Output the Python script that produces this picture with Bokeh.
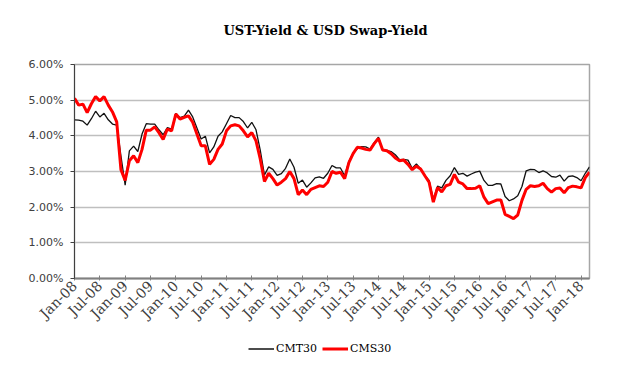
import math
from bokeh.plotting import figure
from bokeh.layouts import column
from bokeh.models import (Range1d, FixedTicker, PrintfTickFormatter, Legend, LegendItem,
                          ColumnDataSource, Label)
from bokeh.embed import file_html
from bokeh.resources import INLINE

# ---- data (month-end values, first point plotted at the Jan-08 tick) ----
cmt30 = [4.45, 4.44, 4.41, 4.30, 4.48, 4.69, 4.53, 4.63, 4.45, 4.33, 4.30, 3.44,
         2.62, 3.58, 3.71, 3.56, 4.05, 4.34, 4.33, 4.33, 4.17, 4.03, 4.23, 4.19,
         4.63, 4.51, 4.55, 4.72, 4.53, 4.22, 3.91, 3.99, 3.52, 3.69, 3.99, 4.11,
         4.34, 4.57, 4.51, 4.51, 4.40, 4.22, 4.38, 4.17, 3.60, 2.90, 3.13, 3.06,
         2.89, 2.94, 3.09, 3.35, 3.12, 2.67, 2.76, 2.56, 2.68, 2.82, 2.85, 2.81,
         2.95, 3.17, 3.10, 3.10, 2.88, 3.28, 3.52, 3.64, 3.70, 3.69, 3.63, 3.81,
         3.96, 3.60, 3.59, 3.56, 3.47, 3.33, 3.34, 3.32, 3.09, 3.21, 3.07, 2.89,
         2.75, 2.22, 2.59, 2.54, 2.75, 2.88, 3.11, 2.92, 2.95, 2.87, 2.93, 2.98,
         3.01, 2.75, 2.61, 2.61, 2.66, 2.65, 2.30, 2.18, 2.23, 2.32, 2.58, 3.02,
         3.06, 3.05, 2.97, 3.02, 2.96, 2.86, 2.84, 2.90, 2.73, 2.86, 2.88, 2.83,
         2.74, 2.95, 3.13]

cms30 = [5.05, 4.86, 4.89, 4.65, 4.90, 5.10, 4.98, 5.10, 4.86, 4.67, 4.39, 3.05,
         2.75, 3.30, 3.44, 3.25, 3.62, 4.16, 4.16, 4.25, 4.09, 3.90, 4.19, 4.14,
         4.61, 4.47, 4.52, 4.56, 4.38, 4.05, 3.72, 3.72, 3.20, 3.34, 3.62, 3.77,
         4.14, 4.28, 4.31, 4.28, 4.14, 3.97, 4.09, 3.86, 3.35, 2.72, 2.95, 2.80,
         2.62, 2.70, 2.80, 3.00, 2.80, 2.35, 2.48, 2.35, 2.50, 2.55, 2.60, 2.58,
         2.70, 3.00, 2.95, 2.98, 2.80, 3.25, 3.50, 3.68, 3.66, 3.62, 3.60, 3.78,
         3.93, 3.60, 3.58, 3.50, 3.38, 3.30, 3.32, 3.20, 3.05, 3.15, 3.07, 2.88,
         2.70, 2.14, 2.55, 2.43, 2.60, 2.64, 2.92, 2.70, 2.65, 2.52, 2.52, 2.53,
         2.60, 2.28, 2.10, 2.15, 2.20, 2.20, 1.80, 1.74, 1.68, 1.78, 2.19, 2.50,
         2.60, 2.58, 2.60, 2.67, 2.52, 2.42, 2.52, 2.54, 2.40, 2.55, 2.59, 2.57,
         2.54, 2.83, 2.98]

month_index = list(range(len(cmt30)))

x_tick_labels = ["Jan-08", "Jul-08", "Jan-09", "Jul-09", "Jan-10", "Jul-10", "Jan-11",
                 "Jul-11", "Jan-12", "Jul-12", "Jan-13", "Jul-13", "Jan-14", "Jul-14",
                 "Jan-15", "Jul-15", "Jan-16", "Jul-16", "Jan-17", "Jul-17", "Jan-18"]
y_ticks = [0, 1, 2, 3, 4, 5, 6]

series_names = ["CMT30", "CMS30"]
series_colors = ["#111111", "#ff0000"]
series_widths = [1.3, 3]
title_text = "UST-Yield & USD Swap-Yield"

src = ColumnDataSource(dict(x=month_index, cmt=cmt30, cms=cms30))

W = 611
FRAME_L, FRAME_R = 74, 589   # page x of the plot frame (frames are aligned in the column)

# ---- title strip (x range expressed in page pixels of the aligned frame) ----
t = figure(width=W, height=40, output_backend="svg", toolbar_location=None,
           x_range=Range1d(FRAME_L, FRAME_R), y_range=Range1d(0, 40),
           min_border_left=0, min_border_right=0, min_border_top=0, min_border_bottom=0,
           x_axis_location=None, y_axis_location=None)
t.grid.visible = False
t.outline_line_color = None
t.background_fill_color = "white"
t.border_fill_color = "white"
t.add_layout(Label(x=325, y=10, text=title_text, text_align="center",
                   text_baseline="alphabetic", text_font="DejaVu Serif",
                   text_font_style="bold", text_font_size="13px", text_color="#000000"))

# ---- main chart ----
p = figure(width=W, height=290, output_backend="svg", toolbar_location=None,
           x_range=Range1d(0, len(cmt30) - 1), y_range=Range1d(0, 6),
           min_border_left=FRAME_L, min_border_right=W - FRAME_R, min_border_top=24,
           min_border_bottom=51)

p.background_fill_color = "white"
p.border_fill_color = "white"
p.outline_line_color = "#a6a6a6"
p.outline_line_width = 1.5

p.xgrid.visible = False
p.ygrid.grid_line_color = "#bfbfbf"
p.ygrid.grid_line_width = 1.5

r1 = p.line("x", "cmt", source=src, line_color=series_colors[0], line_width=series_widths[0])
r2 = p.line("x", "cms", source=src, line_color=series_colors[1], line_width=series_widths[1])

# x axis
p.xaxis.ticker = FixedTicker(ticks=[6 * k for k in range(len(x_tick_labels))])
p.xaxis.major_label_overrides = {6 * k: lab for k, lab in enumerate(x_tick_labels)}
p.xaxis.major_label_orientation = math.pi / 4
p.xaxis.major_label_text_font = "DejaVu Serif"
p.xaxis.major_label_text_font_size = "14px"
p.xaxis.major_label_text_color = "#404040"
p.xaxis.axis_line_color = "#808080"
p.xaxis.axis_line_width = 2
p.xaxis.major_tick_line_color = "#808080"
p.xaxis.major_tick_in = 3
p.xaxis.major_tick_out = 2
p.xaxis.minor_tick_line_color = None
p.xaxis.major_label_standoff = 3

# y axis
p.yaxis.ticker = FixedTicker(ticks=y_ticks)
p.yaxis.formatter = PrintfTickFormatter(format="%.2f%%")
p.yaxis.major_label_text_font = "DejaVu Sans"
p.yaxis.major_label_text_font_size = "11px"
p.yaxis.major_label_text_color = "#404040"
p.yaxis.axis_line_color = "#404040"
p.yaxis.axis_line_width = 1
p.yaxis.major_tick_line_color = "#404040"
p.yaxis.major_tick_in = 0
p.yaxis.major_tick_out = 4
p.yaxis.minor_tick_line_color = None
p.yaxis.major_label_standoff = 7

# ---- legend strip (same series, ranges kept away so only the legend shows) ----
q = figure(width=W, height=36, output_backend="svg", toolbar_location=None,
           x_range=Range1d(-1000, -999), y_range=Range1d(-1000, -999),
           min_border_left=0, min_border_right=0, min_border_top=0,
           min_border_bottom=0, x_axis_location=None, y_axis_location=None)
q.grid.visible = False
q.outline_line_color = None
q.background_fill_color = "white"
q.border_fill_color = "white"
l1 = q.line("x", "cmt", source=src, line_color=series_colors[0], line_width=series_widths[0])
l2 = q.line("x", "cms", source=src, line_color=series_colors[1], line_width=series_widths[1])

legend = Legend(items=[LegendItem(label=series_names[0], renderers=[l1]),
                       LegendItem(label=series_names[1], renderers=[l2])],
                location="center_left", orientation="horizontal",
                glyph_width=26, glyph_height=10, label_standoff=2, spacing=5,
                padding=2, margin=174, label_text_font="DejaVu Serif",
                label_text_font_size="11px", label_text_color="#000000",
                border_line_color=None, background_fill_alpha=0)
q.add_layout(legend, "center")

layout = column(t, p, q, spacing=0)
open("out.html", "w").write(file_html(layout, INLINE))
